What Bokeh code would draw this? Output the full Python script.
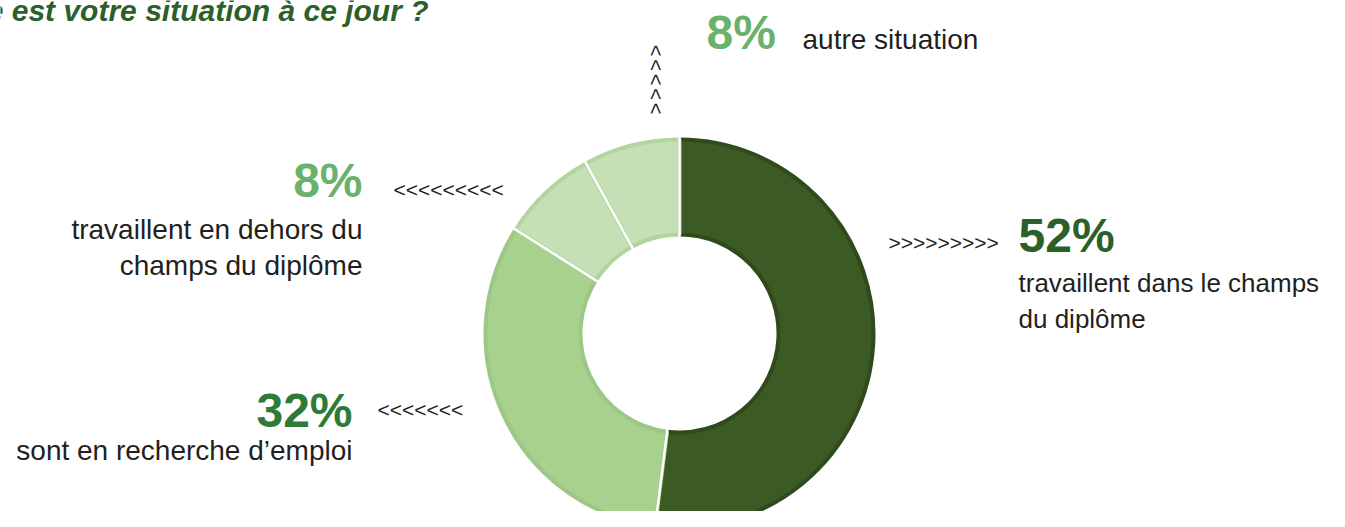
import numpy as np
from bokeh.plotting import figure
from bokeh.models import Range1d
from bokeh.core.properties import value
from bokeh.embed import file_html
from bokeh.resources import INLINE

# ---------------- data ----------------
title = "Quelle est votre situation à ce jour ?"
categories = ["travaillent dans le champs du diplôme",
              "sont en recherche d’emploi",
              "travaillent en dehors du champs du diplôme",
              "autre situation"]
values = [52, 32, 8, 8]
desc_lines = [["travaillent dans le champs", "du diplôme"],
              ["sont en recherche d’emploi"],
              ["travaillent en dehors du", "champs du diplôme"],
              ["autre situation"]]

# ---------------- styles ----------------
fills = ["#3B5A24", "#A9D18E", "#C5E0B4", "#C5E0B4"]
borders = ["#30491D", "#9DC784", "#B2D49F", "#B2D49F"]
pct_colors = ["#2D5F2A", "#2E7A36", "#6AB26C", "#6AB26C"]
FONT = value("Liberation Sans")
TXT = "#231F20"

W, H = 1329, 511
def X(rx):
    return rx
def Y(ry):
    return H - ry
def YB(ry, fs):
    # baseline correction for text placement
    return H - (ry - 0.38 * fs)

p = figure(width=W, height=H, x_range=Range1d(0, W), y_range=Range1d(0, H),
           output_backend="svg", toolbar_location=None, min_border=0)
p.axis.visible = False
p.grid.visible = False
p.outline_line_color = None
p.background_fill_color = "white"
p.border_fill_color = "white"

# ---------------- donut ----------------
cx, cy = X(679), Y(333)
r_out, r_in = 196, 97
total = float(sum(values))
frac = np.cumsum([0] + values) / total
start = np.pi / 2 - frac[1:] * 2 * np.pi
end = np.pi / 2 - frac[:-1] * 2 * np.pi

p.annular_wedge(x=cx, y=cy, inner_radius=r_in + 2, outer_radius=r_out - 2,
                start_angle=list(start), end_angle=list(end),
                fill_color=fills, line_color=borders, line_width=4)
# white separators between slices
ang = np.pi / 2 - frac[:-1] * 2 * np.pi
p.segment(x0=list(cx + (r_in - 1) * np.cos(ang)), y0=list(cy + (r_in - 1) * np.sin(ang)),
          x1=list(cx + (r_out + 1) * np.cos(ang)), y1=list(cy + (r_out + 1) * np.sin(ang)),
          line_color="white", line_width=2.5)

# ---------------- title ----------------
p.text(x=[X(428)], y=[YB(21, 30)], text=[title], text_align="right",
       text_baseline="alphabetic", text_font=FONT, text_font_size="30px",
       text_font_style="bold italic", text_color="#2B5F2B")

# ---------------- labels ----------------
# (pct x, pct y, align, desc x, desc first baseline, line step, desc size)
layout = [
    (1018, 253, "left", 1018, 292, 36, 26),
    (352, 428, "right", 352, 461, 36, 28),
    (362, 198, "right", 362, 240, 36, 28),
    (706, 50, "left", 802, 50, 36, 28),
]
PCT_FS = 48
for i, (px, py, al, dx, dy, step, fs) in enumerate(layout):
    p.text(x=[X(px)], y=[YB(py, PCT_FS)], text=[f"{values[i]}%"], text_align=al,
           text_baseline="alphabetic", text_font=FONT, text_font_size=f"{PCT_FS}px",
           text_font_style="bold", text_color=pct_colors[i])
    p.text(x=[X(dx)] * len(desc_lines[i]),
           y=[YB(dy + k * step, fs) for k in range(len(desc_lines[i]))],
           text=desc_lines[i], text_align=al,
           text_baseline="alphabetic", text_font=FONT, text_font_size=f"{fs}px",
           text_color=TXT)

# ---------------- chevrons ----------------
CH_FS = 21
chev = [(888, 250, ">" * 9), (393, 197, "<" * 9), (377, 417, "<" * 7)]
for (ax, ay, s) in chev:
    p.text(x=[X(ax)], y=[YB(ay, CH_FS)], text=[s], text_align="left",
           text_baseline="alphabetic", text_font=FONT, text_font_size=f"{CH_FS}px",
           text_color="#222222")
n_up = 5
p.text(x=[X(655)] * n_up, y=[Y(50 + 14.5 * k) for k in range(n_up)], text=["<"] * n_up,
       angle=-np.pi / 2, text_align="center", text_baseline="middle",
       text_font=FONT, text_font_size="20px", text_color="#222222")

open("out.html", "w").write(file_html(p, INLINE))
